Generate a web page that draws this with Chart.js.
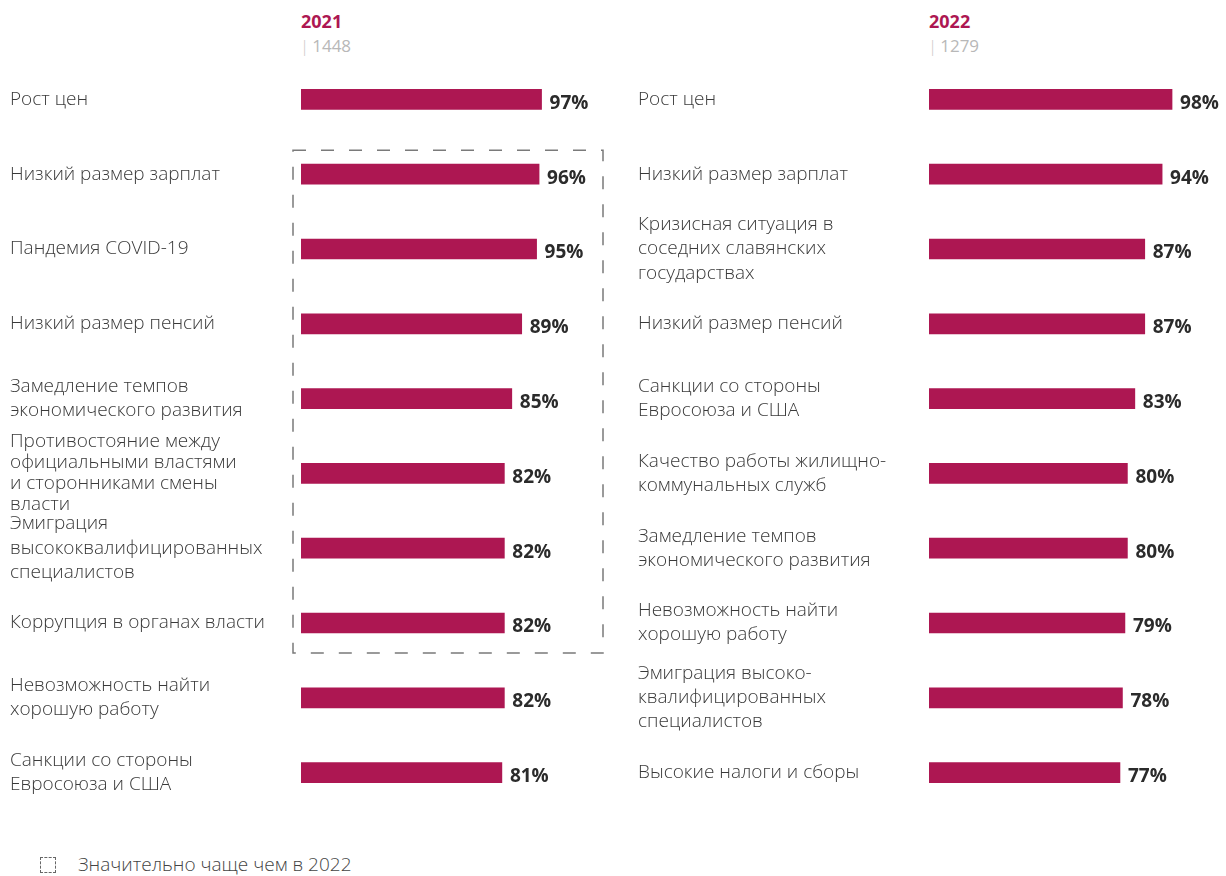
<!DOCTYPE html>
<html>
<head>
<meta charset="utf-8">
<script src="https://cdn.jsdelivr.net/npm/chart.js@4/dist/chart.umd.min.js"></script>
<style>
  body { margin: 0; background: #fff; font-family: "Open Sans", sans-serif; }
  .wrap { position: absolute; top: 62px; height: 748px; }
  .year { position: absolute; font-size: 18px; font-weight: 700; color: #ad1752; }
  .count { position: absolute; font-size: 17px; color: #b8b8b8; }
  .count span { color: #c8c8c8; margin-right: 3px; font-weight: 300; }
  .legend { position: absolute; left: 40px; top: 856px; font-size: 19px; color: #444; }
  .legend i { position: absolute; left: 0; top: 1px; width: 14px; height: 14px; border: 1.5px dashed #666; }
  .legend b { position: absolute; left: 38px; top: -5px; white-space: nowrap; font-weight: 300; }
</style>
</head>
<body>
<div class="year" style="left:301px;top:9px">2021</div>
<div class="count" style="left:300px;top:34px"><span>|</span>1448</div>
<div class="year" style="left:929px;top:9px">2022</div>
<div class="count" style="left:928px;top:34px"><span>|</span>1279</div>

<div class="wrap" style="left:0;width:620px"><canvas id="chart2021"></canvas></div>
<div class="wrap" style="left:628px;width:598px"><canvas id="chart2022"></canvas></div>

<div class="legend"><i></i><b>Значительно чаще чем в 2022</b></div>

<script>
const labels2021 = [
  'Рост цен',
  'Низкий размер зарплат',
  'Пандемия COVID-19',
  'Низкий размер пенсий',
  ['Замедление темпов', 'экономического развития'],
  ['Противостояние между', 'официальными властями', 'и сторонниками смены', 'власти'],
  ['Эмиграция', 'высококвалифицированных', 'специалистов'],
  'Коррупция в органах власти',
  ['Невозможность найти', 'хорошую работу'],
  ['Санкции со стороны', 'Евросоюза и США']
];
const values2021 = [97, 96, 95, 89, 85, 82, 82, 82, 82, 81];

const labels2022 = [
  'Рост цен',
  'Низкий размер зарплат',
  ['Кризисная ситуация в', 'соседних славянских', 'государствах'],
  'Низкий размер пенсий',
  ['Санкции со стороны', 'Евросоюза и США'],
  ['Качество работы жилищно-', 'коммунальных служб'],
  ['Замедление темпов', 'экономического развития'],
  ['Невозможность найти', 'хорошую работу'],
  ['Эмиграция высоко-', 'квалифицированных', 'специалистов'],
  'Высокие налоги и сборы'
];
const values2022 = [98, 94, 87, 87, 83, 80, 80, 79, 78, 77];

// rows 2..8 of 2021 are marked with a dashed frame
const highlight2021 = [1, 7];

const barColor = '#ad1752';

const valueLabels = {
  id: 'valueLabels',
  afterDatasetsDraw(chart) {
    const ctx = chart.ctx;
    const meta = chart.getDatasetMeta(0);
    ctx.save();
    ctx.font = 'bold 19px "Open Sans", sans-serif';
    ctx.fillStyle = '#2b2b2b';
    ctx.textBaseline = 'middle';
    meta.data.forEach((bar, i) => {
      ctx.fillText(chart.data.datasets[0].data[i] + '%', bar.x + 8, bar.y + 4);
    });
    ctx.restore();
  }
};

const frame = {
  id: 'frame',
  afterDraw(chart, args, opts) {
    if (!opts.rows) return;
    const ctx = chart.ctx;
    const meta = chart.getDatasetMeta(0);
    const top = meta.data[opts.rows[0]].y - 24;
    const bottom = meta.data[opts.rows[1]].y + 30;
    const left = chart.chartArea.left - 8;
    const right = chart.chartArea.left + 302;
    ctx.save();
    ctx.strokeStyle = '#7a7a7a';
    ctx.lineWidth = 1.5;
    ctx.setLineDash([13, 15]);
    ctx.strokeRect(left, top, right - left, bottom - top);
    ctx.restore();
  }
};

function makeChart(id, labels, values, padRight, rows) {
  new Chart(document.getElementById(id), {
    type: 'bar',
    data: {
      labels: labels,
      datasets: [{
        data: values,
        backgroundColor: barColor,
        barThickness: 20
      }]
    },
    options: {
      indexAxis: 'y',
      responsive: true,
      maintainAspectRatio: false,
      animation: false,
      layout: { padding: { left: 10, right: padRight, top: 0, bottom: 0 } },
      plugins: {
        legend: { display: false },
        tooltip: { enabled: false },
        frame: { rows: rows }
      },
      scales: {
        x: { min: 0, max: 100, display: false },
        y: {
          grid: { display: false },
          border: { display: false },
          afterFit: s => {
            s.width = 291;
            s.paddingTop = 0;
            s.paddingBottom = 0;
          },
          ticks: {
            autoSkip: false,
            crossAlign: 'far',
            color: '#3a3a3a',
            // the 4-line label gets tighter leading so it does not run into its neighbours
            font: c => ({
              family: '"Open Sans", sans-serif',
              size: 19,
              weight: '300',
              lineHeight: Array.isArray(labels[c.index]) && labels[c.index].length > 3 ? 1.1 : 1.27
            })
          }
        }
      }
    },
    plugins: [valueLabels, frame]
  });
}

makeChart('chart2021', labels2021, values2021, 71, highlight2021);
makeChart('chart2022', labels2022, values2022, 49, null);
</script>
</body>
</html>
